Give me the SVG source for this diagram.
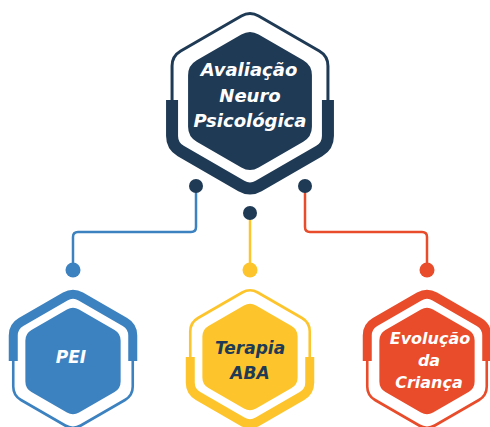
<svg xmlns="http://www.w3.org/2000/svg" xmlns:xlink="http://www.w3.org/1999/xlink" width="490" height="427" viewBox="0 0 490 427">
<style>
.lbl{font-family:"DejaVu Sans","Liberation Sans",sans-serif;font-weight:bold;font-style:italic;text-anchor:middle}
.thin{fill:none;stroke-width:2.6}
.thick{fill:none;stroke-width:9;stroke-linejoin:round}
.conn{fill:none;stroke-width:2.5}
</style>
<defs>
<path id="inner" d="M-6.06,-51.5 Q0,-55 6.06,-51.5 L41.57,-31 Q47.63,-27.5 47.63,-20.5 L47.63,20.5 Q47.63,27.5 41.57,31 L6.06,51.5 Q0,55 -6.06,51.5 L-41.57,31 Q-47.63,27.5 -47.63,20.5 L-47.63,-20.5 Q-47.63,-27.5 -41.57,-31 Z"/>
<path id="outer" d="M-7.79,-64.5 Q0,-69 7.79,-64.5 L51.96,-39 Q59.75,-34.5 59.75,-25.5 L59.75,25.5 Q59.75,34.5 51.96,39 L7.79,64.5 Q0,69 -7.79,64.5 L-51.96,39 Q-59.75,34.5 -59.75,25.5 L-59.75,-25.5 Q-59.75,-34.5 -51.96,-39 Z"/>
<path id="thickTop" d="M-59.75,0 L-59.75,-25.5 Q-59.75,-34.5 -51.96,-39 L-7.79,-64.5 Q0,-69 7.79,-64.5 L51.96,-39 Q59.75,-34.5 59.75,-25.5 L59.75,0"/>
<path id="thickBottom" d="M-59.75,0 L-59.75,25.5 Q-59.75,34.5 -51.96,39 L-7.79,64.5 Q0,69 7.79,64.5 L51.96,39 Q59.75,34.5 59.75,25.5 L59.75,0"/>
</defs>

<g id="connectors">
<path class="conn" stroke="#3d82c0" d="M196,186 V227 Q196,232 191,232 H78 Q73,232 73,237 V270"/>
<path class="conn" stroke="#fdc52b" d="M250,213 V270"/>
<path class="conn" stroke="#e84c2a" d="M305,186 V227 Q305,232 310,232 H422 Q427,232 427,237 V270"/>
<circle cx="196" cy="186" r="7" fill="#1f3a55"/>
<circle cx="250" cy="213" r="7" fill="#1f3a55"/>
<circle cx="305" cy="186" r="7" fill="#1f3a55"/>
<circle cx="73" cy="270" r="7.5" fill="#3d82c0"/>
<circle cx="250" cy="270" r="7.5" fill="#fdc52b"/>
<circle cx="427" cy="270" r="7.5" fill="#e84c2a"/>
</g>

<g id="node-avaliacao">
<path fill="none" stroke="#1f3a55" stroke-width="3" d="M241.34,16 Q250,11 258.66,16 L319.28,51 Q327.94,56 327.94,66 L327.94,136 Q327.94,146 319.28,151 L258.66,186 Q250,191 241.34,186 L180.72,151 Q172.06,146 172.06,136 L172.06,66 Q172.06,56 180.72,51 Z"/>
<path fill="none" stroke="#1f3a55" stroke-width="12" stroke-linejoin="round" d="M172.06,100 L172.06,136 Q172.06,146 180.72,151 L241.34,186 Q250,191 258.66,186 L319.28,151 Q327.94,146 327.94,136 L327.94,100"/>
<path fill="#1f3a55" d="M241.34,34.5 Q250,29.5 258.66,34.5 L303.26,60.25 Q311.92,65.25 311.92,75.25 L311.92,126.75 Q311.92,136.75 303.26,141.75 L258.66,167.5 Q250,172.5 241.34,167.5 L196.74,141.75 Q188.08,136.75 188.08,126.75 L188.08,75.25 Q188.08,65.25 196.74,60.25 Z"/>
<text class="lbl" fill="#ffffff" font-size="18"><tspan x="249" y="76">Avaliação</tspan><tspan x="250" y="102">Neuro</tspan><tspan x="250" y="127">Psicológica</tspan></text>
</g>

<g id="node-pei" transform="translate(73,361)">
<use href="#outer" class="thin" stroke="#3d82c0"/>
<use href="#thickTop" class="thick" stroke="#3d82c0"/>
<use href="#inner" fill="#3d82c0"/>
<text class="lbl" fill="#ffffff" font-size="17" x="-2" y="2">PEI</text>
</g>

<g id="node-aba" transform="translate(250,357)">
<use href="#outer" class="thin" stroke="#fdc52b"/>
<use href="#thickBottom" class="thick" stroke="#fdc52b"/>
<use href="#inner" fill="#fdc52b"/>
<text class="lbl" fill="#1f3a55" font-size="17"><tspan x="0" y="-3">Terapia</tspan><tspan x="0" y="22">ABA</tspan></text>
</g>

<g id="node-evolucao" transform="translate(427,361)">
<use href="#outer" class="thin" stroke="#e84c2a"/>
<use href="#thickTop" class="thick" stroke="#e84c2a"/>
<use href="#inner" fill="#e84c2a"/>
<text class="lbl" fill="#ffffff" font-size="16"><tspan x="3" y="-17">Evolução</tspan><tspan x="2" y="5">da</tspan><tspan x="2" y="27">Criança</tspan></text>
</g>
</svg>
